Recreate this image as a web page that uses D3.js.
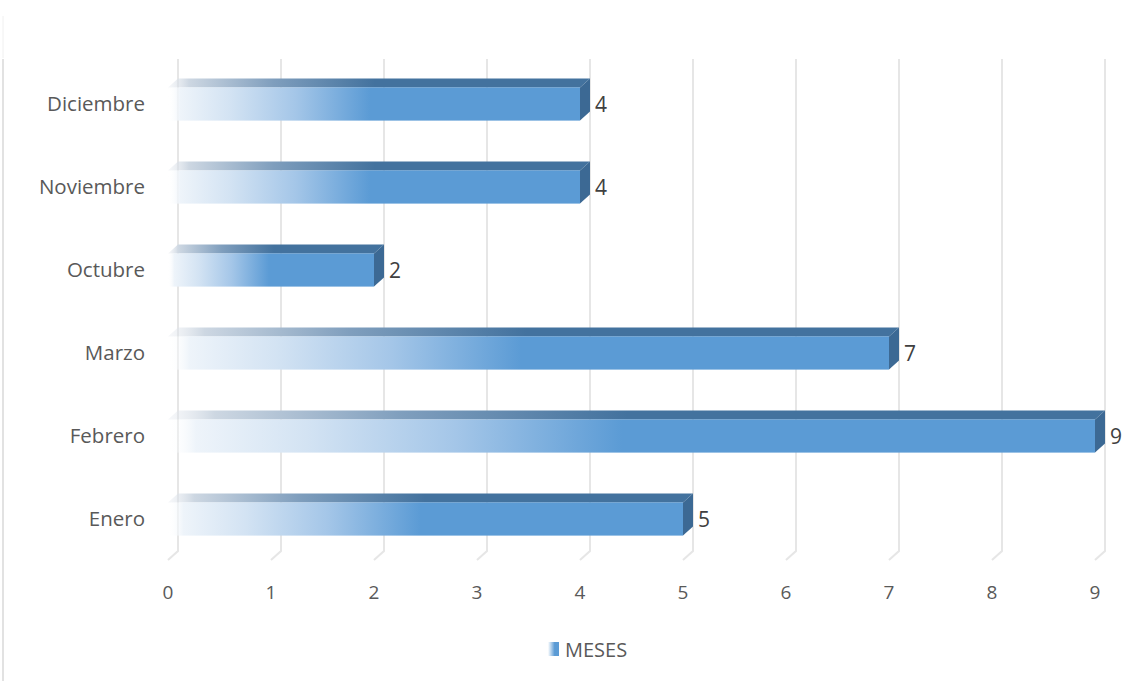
<!DOCTYPE html>
<meta charset="utf-8">
<script src="https://d3js.org/d3.v7.min.js"></script>
<style>
  body { margin: 0; background: #fff; }
  text { font-family: "Open Sans", "Noto Sans", sans-serif; }
</style>
<div id="chart"></div>
<script>
  // data
  var categories = ["Enero", "Febrero", "Marzo", "Octubre", "Noviembre", "Diciembre"];
  var values = [5, 9, 7, 2, 4, 4];
  var tickValues = [0, 1, 2, 3, 4, 5, 6, 7, 8, 9];
  var seriesName = "MESES";

  var width = 1147, height = 681;
  var depthX = 10, depthY = 9;

  var svg = d3.select("#chart")
    .append("svg")
      .attr("width", width)
      .attr("height", height);

  var defs = svg.append("defs");

  var front = defs.append("linearGradient").attr("id", "gFront");
  front.append("stop").attr("offset", "0%").attr("stop-color", "#ffffff").attr("stop-opacity", 0);
  front.append("stop").attr("offset", "3%").attr("stop-color", "#eef4fa").attr("stop-opacity", 1);
  front.append("stop").attr("offset", "15%").attr("stop-color", "#d3e3f3");
  front.append("stop").attr("offset", "31%").attr("stop-color", "#a4c6e8");
  front.append("stop").attr("offset", "49%").attr("stop-color", "#5b9bd5");
  front.append("stop").attr("offset", "100%").attr("stop-color", "#5b9bd5");

  var top3d = defs.append("linearGradient").attr("id", "gTop");
  top3d.append("stop").attr("offset", "0%").attr("stop-color", "#e4e8ee").attr("stop-opacity", 0.3);
  top3d.append("stop").attr("offset", "5%").attr("stop-color", "#cdd7e2").attr("stop-opacity", 1);
  top3d.append("stop").attr("offset", "25%").attr("stop-color", "#7f9ebd");
  top3d.append("stop").attr("offset", "49%").attr("stop-color", "#43729e");
  top3d.append("stop").attr("offset", "100%").attr("stop-color", "#43729e");

  var legendGrad = defs.append("linearGradient").attr("id", "gLegend");
  legendGrad.append("stop").attr("offset", "0%").attr("stop-color", "#ffffff");
  legendGrad.append("stop").attr("offset", "60%").attr("stop-color", "#5b9bd5");
  legendGrad.append("stop").attr("offset", "100%").attr("stop-color", "#5b9bd5");

  // thin frame line at the left edge
  svg.append("line")
    .attr("x1", 3).attr("x2", 3).attr("y1", 16).attr("y2", 58)
    .attr("stroke", "#f0f0f0").attr("stroke-width", 1);
  svg.append("line")
    .attr("x1", 3).attr("x2", 3).attr("y1", 59).attr("y2", height)
    .attr("stroke", "#d9d9d9").attr("stroke-width", 1.5);

  var x = d3.scaleLinear()
    .domain([0, 9])
    .range([168, 1095]);

  var y = d3.scaleBand()
    .domain(categories.slice().reverse())
    .range([62.5, 560.5])
    .paddingInner(0.6)
    .paddingOuter(0.3);

  // 3D wall gridlines
  var wallTop = 59, wallBottom = 551;
  svg.append("g").selectAll("path")
    .data(tickValues)
    .enter()
    .append("path")
      .attr("d", d => "M" + (x(d) + depthX) + "," + wallTop +
                      "V" + wallBottom +
                      "L" + x(d) + "," + (wallBottom + depthY))
      .attr("fill", "none")
      .attr("stroke", "#e6e6e6")
      .attr("stroke-width", 2);

  // bars
  var bars = svg.append("g").selectAll("g")
    .data(categories.map((c, i) => ({ name: c, value: values[i] })))
    .enter()
    .append("g");

  bars.append("path")
    .attr("d", d => {
      var x0 = x(0), x1 = x(d.value), y0 = y(d.name);
      return "M" + x0 + "," + y0 + "L" + (x0 + depthX) + "," + (y0 - depthY) +
             "L" + (x1 + depthX) + "," + (y0 - depthY) + "L" + x1 + "," + y0 + "Z";
    })
    .attr("fill", "url(#gTop)");

  bars.append("path")
    .attr("d", d => {
      var x1 = x(d.value), y0 = y(d.name), y1 = y0 + y.bandwidth();
      return "M" + x1 + "," + y0 + "L" + (x1 + depthX) + "," + (y0 - depthY) +
             "L" + (x1 + depthX) + "," + (y1 - depthY) + "L" + x1 + "," + y1 + "Z";
    })
    .attr("fill", "#3c6994");

  bars.append("rect")
    .attr("x", x(0))
    .attr("y", d => y(d.name))
    .attr("width", d => x(d.value) - x(0))
    .attr("height", y.bandwidth())
    .attr("fill", "url(#gFront)");

  // value labels
  bars.append("text")
    .attr("x", d => x(d.value) + depthX + 5)
    .attr("y", d => y(d.name) + y.bandwidth() / 2)
    .attr("dy", "0.36em")
    .style("font-size", "21px")
    .style("fill", "#404040")
    .text(d => d.value);

  // category labels
  svg.append("g").selectAll("text")
    .data(categories)
    .enter()
    .append("text")
      .attr("x", 145)
      .attr("y", d => y(d) + y.bandwidth() / 2)
      .attr("dy", "0.36em")
      .attr("text-anchor", "end")
      .style("font-size", "20.5px")
      .style("fill", "#595959")
      .text(d => d);

  // tick labels
  svg.append("g").selectAll("text")
    .data(tickValues)
    .enter()
    .append("text")
      .attr("x", d => x(d))
      .attr("y", 592)
      .attr("dy", "0.36em")
      .attr("text-anchor", "middle")
      .style("font-size", "19px")
      .style("fill", "#595959")
      .text(d => d);

  // legend
  svg.append("rect")
    .attr("x", 548).attr("y", 642)
    .attr("width", 11).attr("height", 14)
    .attr("fill", "url(#gLegend)");
  svg.append("text")
    .attr("x", 565).attr("y", 650)
    .attr("dy", "0.36em")
    .style("font-size", "20px")
    .style("fill", "#595959")
    .text(seriesName);
</script>
